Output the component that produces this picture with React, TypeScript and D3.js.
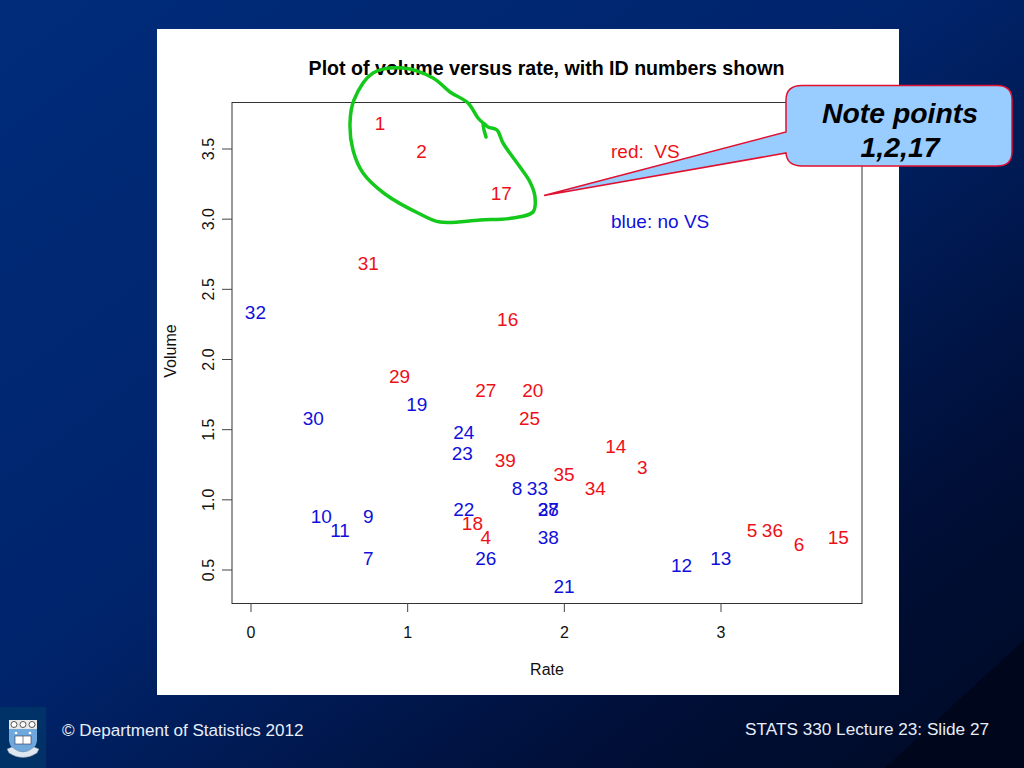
import React from "react";
import * as d3 from "d3";

const ids = [1,2,3,4,5,6,7,8,9,10,11,12,13,14,15,16,17,18,19,20,21,22,23,24,25,26,27,28,29,30,31,32,33,34,35,36,37,38,39];
const volume = [3.7,3.5,1.25,0.75,0.8,0.7,0.6,1.1,0.9,0.9,0.8,0.55,0.6,1.4,0.75,2.3,3.2,0.85,1.7,1.8,0.4,0.95,1.35,1.5,1.6,0.6,1.8,0.95,1.9,1.6,2.7,2.35,1.1,1.1,1.2,0.8,0.95,0.75,1.3];
const rate = [0.825,1.09,2.5,1.5,3.2,3.5,0.75,1.7,0.75,0.45,0.57,2.75,3.0,2.33,3.75,1.64,1.6,1.415,1.06,1.8,2.0,1.36,1.35,1.36,1.78,1.5,1.5,1.9,0.95,0.4,0.75,0.03,1.83,2.2,2.0,3.33,1.9,1.9,1.625];
const vs = [1,1,1,1,1,1,0,0,0,0,0,0,0,1,1,1,1,1,0,1,0,0,0,0,1,0,1,0,1,0,1,0,0,1,1,1,0,0,1];
const xTicks = [0, 1, 2, 3];
const yTicks = [0.5, 1.0, 1.5, 2.0, 2.5, 3.0, 3.5];

const FONT = "'Liberation Sans', Arial, sans-serif";
const RED = "#ee1018";
const BLUE = "#1010dc";

// hand drawn ring around points 1, 2, 17 (pixel trace)
const ring: [number, number][] = [
  [486,137],[483,123],[488,127],[497,130],[503,143],[520,167],[530,182],[535,197],[533,212],[513,218],[480,220],[440,222],[420,214],[385,194],[363,173],[353,150],[350,123],[354,100],[373,73],[403,68],[433,78],[450,92],[468,103],[478,118],[483,123],
];

export default function App() {
  const x = d3.scaleLinear().domain([0, 3]).range([251, 721]);
  const y = d3.scaleLinear().domain([0.5, 3.5]).range([570, 149]);
  const line = d3.line().curve(d3.curveCatmullRom.alpha(0.5));

  return (
    <svg width={1024} height={768} style={{ position: "absolute", left: 0, top: 0 }} fontFamily={FONT}>
      <defs>
        <linearGradient id="bg" x1="0" y1="0" x2="1" y2="1">
          <stop offset="0" stopColor="#002c7a" />
          <stop offset="0.45" stopColor="#00246c" />
          <stop offset="0.78" stopColor="#000f38" />
          <stop offset="1" stopColor="#000a24" />
        </linearGradient>
      </defs>
      <rect width={1024} height={768} fill="url(#bg)" />
      <polygon points="885,768 1024,640 1024,768" fill="#00061c" />
      <rect x={157} y={29} width={742} height={666} fill="#ffffff" />

      {/* plot frame and axes */}
      <rect x={232} y={102.5} width={630} height={501} fill="none" stroke="#333" strokeWidth={1} />
      <g stroke="#444" strokeWidth={1}>
        {xTicks.map(t => <line key={t} x1={x(t)} x2={x(t)} y1={603} y2={612} />)}
        {yTicks.map(t => <line key={t} x1={222} x2={232} y1={y(t)} y2={y(t)} />)}
      </g>
      <g fontSize={16} fill="#111">
        {xTicks.map(t => (
          <text key={t} x={x(t)} y={638} textAnchor="middle">{t}</text>
        ))}
        {yTicks.map(t => (
          <text key={t} transform={`translate(214,${y(t)}) rotate(-90)`} textAnchor="middle">{t.toFixed(1)}</text>
        ))}
        <text x={547} y={674.5} textAnchor="middle">Rate</text>
        <text transform={`translate(176,351) rotate(-90)`} textAnchor="middle">Volume</text>
      </g>
      <text x={546.5} y={74.5} textAnchor="middle" fontSize={19.6} fontWeight="bold" fill="#000">Plot of volume versus rate, with ID numbers shown</text>

      {/* points drawn as their ID numbers */}
      <g fontSize={19}>
        {ids.map((id, i) => (
          <text key={id} x={x(rate[i]) - 0.3} y={y(volume[i]) + 9} textAnchor="middle" fill={vs[i] ? RED : BLUE}>{id}</text>
        ))}
      </g>
      <text x={611} y={158} fontSize={19} fill={RED} xmlSpace="preserve">red:  VS</text>
      <text x={611} y={228} fontSize={19} fill={BLUE}>blue: no VS</text>

      <path d={line(ring) ?? ""} fill="none" stroke="#14c81c" strokeWidth={3.5} strokeLinecap="round" strokeLinejoin="round" />

      {/* callout */}
      <path
        d="M802,85.5 H997 Q1012,85.5 1012,100 V152 Q1012,166 997,166 H802 Q787,166 786,153 L544,195.5 L786,132 V100 Q786,85.5 802,85.5 Z"
        fill="#99ccff" stroke="#e01030" strokeWidth={1.5}
      />
      <g fontSize={28.4} fontWeight="bold" fontStyle="italic" fill="#000" textAnchor="middle">
        <text x={900} y={123}>Note points</text>
        <text x={900} y={157}>1,2,17</text>
      </g>

      {/* footer */}
      <rect x={0} y={707} width={46} height={61} fill="#003268" />
      <g>
        <path d="M9,721 H37 V741 Q36,750 23,755 Q10,750 9,741 Z" fill="#6fa8dc" />
        <rect x={9} y={720} width={28} height={9} fill="#e8e8e8" />
        <circle cx={14} cy={724.5} r={3} fill="#fff" stroke="#555" />
        <circle cx={23} cy={724.5} r={3} fill="#fff" stroke="#555" />
        <circle cx={32} cy={724.5} r={3} fill="#fff" stroke="#555" />
        <circle cx={16} cy={733} r={1.3} fill="#fff" />
        <circle cx={30} cy={733} r={1.3} fill="#fff" />
        <rect x={15} y={736} width={16} height={8} fill="#ffffff" stroke="#335" strokeWidth={0.6} />
        <line x1={23} x2={23} y1={736} y2={744} stroke="#335" strokeWidth={0.6} />
        <path d="M7,749 L12,747 Q23,757 34,747 L39,749 L37,753 Q23,762 9,753 Z" fill="#dfe8f0" stroke="#778" strokeWidth={0.4} />
      </g>
      <text x={62} y={736} fontSize={17.1} fill="#e8eef8">© Department of Statistics 2012</text>
      <text x={989} y={735} fontSize={17.2} fill="#e8eef8" textAnchor="end">STATS 330 Lecture 23: Slide 27</text>
    </svg>
  );
}
